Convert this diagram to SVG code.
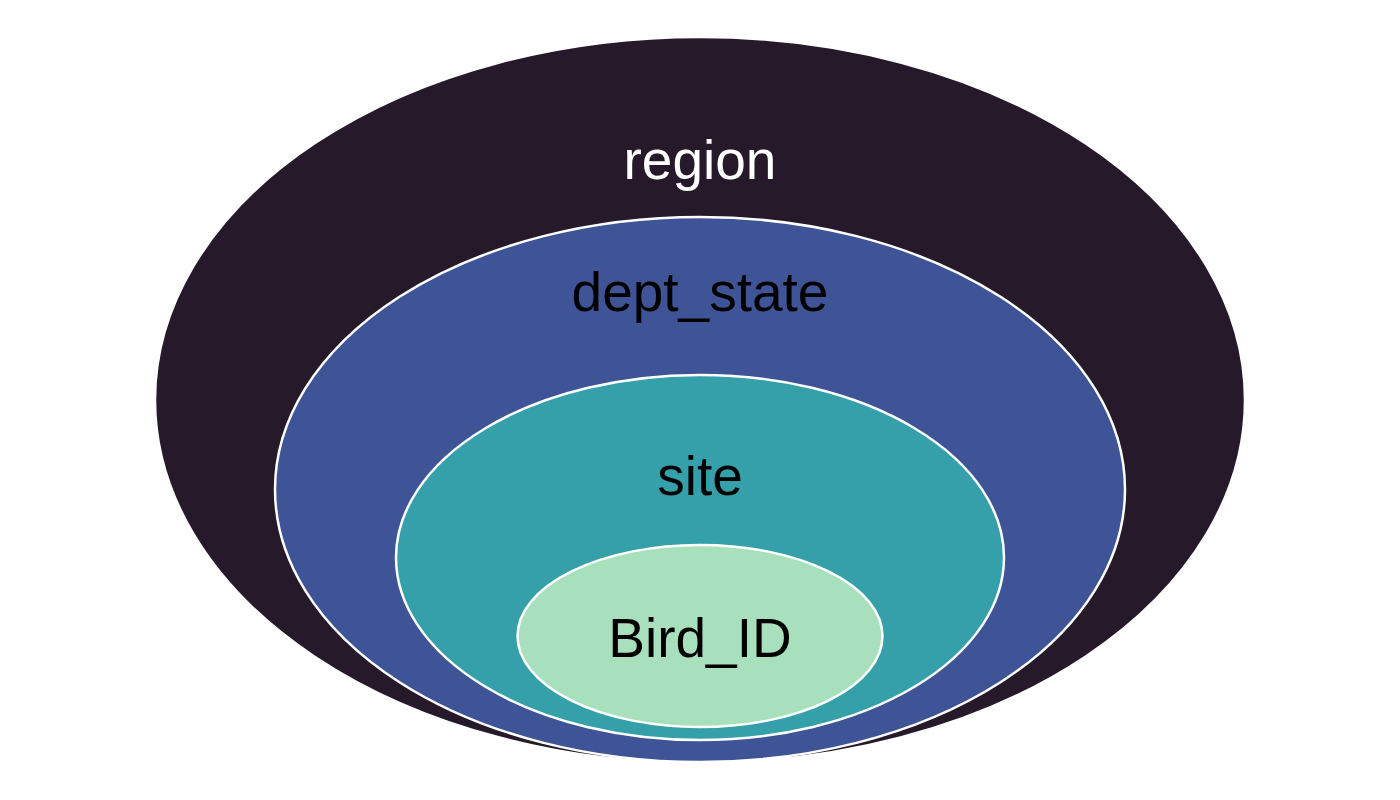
<svg xmlns="http://www.w3.org/2000/svg" width="1400" height="800" viewBox="0 0 1400 800">
<style>
.ring{stroke:#ffffff;stroke-width:2.5}
.lbl{font-family:"Liberation Sans",Arial,sans-serif;font-size:55px;text-anchor:middle;fill:#000000}
</style>
<rect width="1400" height="800" fill="#ffffff"/>
<g id="region">
<ellipse class="ring" cx="700" cy="400" rx="545" ry="363" fill="#26192A"/>
<text class="lbl" x="700" y="179" style="fill:#ffffff">region</text>
</g>
<g id="dept_state">
<ellipse class="ring" cx="700" cy="489.5" rx="425" ry="272.5" fill="#3E5496"/>
<text class="lbl" x="700" y="311">dept_state</text>
</g>
<g id="site">
<ellipse class="ring" cx="700" cy="557.5" rx="304" ry="182.5" fill="#35A0AA"/>
<text class="lbl" x="700" y="495">site</text>
</g>
<g id="Bird_ID">
<ellipse class="ring" cx="700" cy="636" rx="182.5" ry="91" fill="#A8E0BD"/>
<text class="lbl" x="700" y="657">Bird_ID</text>
</g>
<g id="connectors"/>
</svg>
